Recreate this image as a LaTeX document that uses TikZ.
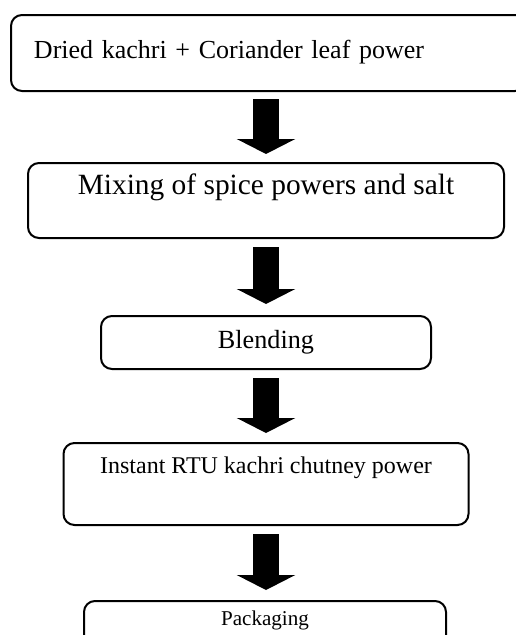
\documentclass[tikz,border=0pt]{standalone}
\usepackage{fontspec}
\setmainfont{Liberation Serif}
\usepackage{tikz}
\usetikzlibrary{arrows.meta,positioning}
\tikzstyle{stage}=[draw, line width=2pt, rounded corners=11pt, inner sep=0pt]
\tikzstyle{flow}=[line width=26pt, -{Triangle[width=58pt,length=15pt]}, shorten <=8pt, shorten >=9pt]
\newcommand{\fs}[1]{\fontsize{#1pt}{#1pt}\selectfont}

\begin{document}
\begin{tikzpicture}[x=1pt,y=-1pt]
\useasboundingbox (0,0) rectangle (515,635);

% raw material
\node (dried) [stage, anchor=north west, minimum height=76pt, text width=469pt, inner xsep=23pt, align=left,
  text height=18.5pt, text depth=8.5pt, font=\fs{26}] at (10,14) {Dried kachri + Coriander leaf power};

% processing
\node (mixing) [stage, below=70pt of dried.south, xshift=-2.5pt, minimum width=476pt, minimum height=75pt,
  text height=20.6pt, text depth=33.6pt, font=\fs{29.4}] {Mixing of spice powers and salt};
\node (blending) [stage, below=76pt of mixing, minimum width=330pt, minimum height=53pt,
  text height=21pt, text depth=10pt, font=\fs{26.2}] {Blending};
\node (instant) [stage, below=72pt of blending, minimum width=405pt, minimum height=82pt,
  text height=16.8pt, text depth=38.8pt, font=\fs{24}] {Instant RTU kachri chutney power};
\node (packaging) [stage, below=74pt of instant, xshift=-1pt, minimum width=362pt, minimum height=60pt,
  text height=14.8pt, text depth=26.8pt, font=\fs{21.1}] {Packaging};

% arrows
\draw [flow, shorten <=7pt, shorten >=8pt] (dried.south -| mixing.north) -- (mixing.north);
\draw [flow, shorten >=11pt] (mixing) -- (blending);
\draw [flow] (blending) -- (instant);
\draw [flow, shorten >=10pt] (instant) -- (instant |- packaging.north);

\end{tikzpicture}
\end{document}
